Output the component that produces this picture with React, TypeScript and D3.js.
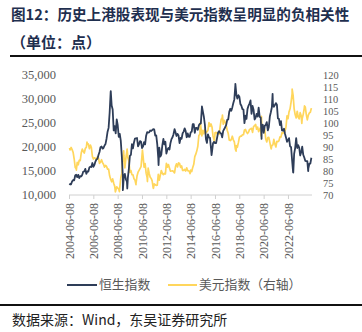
import React from "react";
import * as d3 from "d3";

// Monthly closes, starting 2004-06
const startYear = 2004;
const startMonth = 6;
const hsiMonthly = [
  12286, 12238, 12851, 13120, 13054, 14060, 14230,
  13721, 14195, 13516, 13908, 13867, 14201, 14880, 14903, 15429, 14386, 14937, 14876,
  15753, 15918, 15805, 16661, 15857, 16267, 16971, 17392, 17543, 18324, 18960, 19965,
  20106, 19651, 19801, 20318, 20634, 21773, 23185, 23984, 27142, 31352, 28643, 27813,
  23456, 24332, 22849, 25755, 24533, 22102, 22731, 21262, 18016, 13969, 13888, 14387,
  13278, 12812, 13576, 15521, 18171, 18379, 20573, 19724, 20955, 21753, 21822, 21873,
  20122, 20609, 21239, 21108, 19765, 20129, 21030, 20536, 22359, 23096, 23008, 23035,
  23447, 23338, 23528, 23721, 23684, 22398, 22440, 20535, 17592, 19864, 17989, 18434,
  20390, 21680, 20556, 21094, 18630, 19441, 19796, 19482, 20840, 21642, 22030, 22657,
  23730, 23020, 22300, 22737, 22392, 20803, 21883, 21731, 22860, 23206, 23881, 23306,
  22035, 22837, 22151, 22134, 23082, 23191, 24757, 24742, 22933, 23998, 23987, 23605,
  24507, 24823, 24901, 28133, 27424, 26250, 24636, 21671, 20846, 22640, 21996, 21914,
  19683, 19112, 20777, 21067, 20815, 20794, 21891, 23023, 23297, 22935, 22790, 22001,
  23361, 23741, 24112, 24615, 25661, 25765, 27323, 27970, 27554, 28246, 29177, 29919,
  32887, 30845, 30093, 30808, 30469, 28955, 28583, 27889, 27789, 24980, 26507, 25846,
  27942, 28633, 29051, 29699, 26901, 28543, 27778, 25725, 26092, 26907, 26346, 28190,
  26313, 26130, 23603, 24644, 22961, 24427, 24595, 25177, 23459, 24107, 26341, 27231,
  28284, 28980, 28378, 28725, 29152, 28828, 25961, 25879, 24576, 25377, 23475, 23398,
  23802, 22713, 21997, 21089, 21415, 21860, 20157, 19955, 17223, 14687, 18597, 19781,
  21842, 19786, 20400, 19895, 18234, 18916, 20079, 18382, 17810, 17112, 17043, 17047,
  15485, 16511, 16541, 17763,
];
const dxyMonthly = [
  88.8, 89.8, 88.9, 87.7, 85.1, 81.5, 81.0,
  83.6, 82.6, 84.4, 84.3, 87.5, 89.1, 88.2, 87.5, 89.4, 89.8, 91.4, 91.2,
  89.3, 90.8, 89.8, 86.1, 85.0, 85.5, 85.2, 84.8, 85.9, 85.4, 83.2, 83.7,
  84.7, 83.5, 82.8, 81.6, 82.3, 81.9, 80.8, 80.8, 78.0, 76.6, 75.5, 76.7,
  74.9, 73.6, 71.8, 73.4, 72.9, 72.4, 73.0, 77.2, 79.0, 85.6, 86.6, 81.3,
  85.4, 88.5, 85.6, 84.2, 79.4, 80.2, 78.5, 78.4, 76.8, 76.2, 74.9, 77.9,
  79.5, 80.3, 81.0, 81.8, 86.6, 86.2, 81.6, 83.1, 79.1, 77.3, 81.2, 79.0,
  77.4, 76.9, 75.9, 73.0, 74.6, 74.3, 74.0, 74.1, 78.6, 76.2, 78.3, 80.2,
  79.0, 78.5, 79.0, 78.8, 83.2, 81.6, 82.7, 81.2, 79.9, 80.0, 80.1, 79.8,
  79.2, 82.0, 83.0, 81.7, 83.4, 83.1, 81.5, 82.1, 80.2, 80.2, 80.7, 80.0,
  81.3, 80.1, 80.1, 79.5, 80.4, 79.8, 81.5, 82.8, 86.0, 87.0, 88.4, 90.3,
  94.8, 95.3, 98.4, 94.6, 96.9, 95.5, 97.3, 96.0, 96.3, 97.0, 100.2, 98.6,
  99.6, 98.2, 94.6, 93.1, 95.9, 96.1, 95.5, 96.0, 95.4, 98.4, 101.5, 102.2,
  99.5, 101.1, 100.4, 99.0, 97.0, 95.6, 92.9, 92.7, 93.1, 94.5, 93.0, 92.1,
  89.1, 90.6, 89.9, 91.8, 94.0, 94.5, 94.5, 95.1, 95.1, 97.1, 97.3, 96.2,
  95.6, 96.2, 97.3, 97.5, 97.8, 96.1, 98.5, 98.9, 99.4, 97.4, 98.3, 96.4,
  97.4, 98.1, 99.0, 99.0, 98.3, 97.4, 93.3, 92.1, 93.9, 94.0, 91.9, 89.9,
  90.6, 90.9, 93.2, 91.3, 90.0, 92.4, 92.2, 92.6, 94.2, 94.1, 96.0, 95.7,
  96.5, 96.7, 98.3, 103.0, 101.8, 104.7, 105.9, 108.7, 112.1, 111.5, 105.9, 103.5,
  102.1, 104.9, 102.5, 101.7, 104.3, 102.9, 101.9, 103.6, 106.2, 106.7, 103.5, 101.3,
  103.3, 104.2, 104.5, 106.2,
];
// Intra-month extremes
const hsiExtremes: [string, number][] = [
  ["2004-06-08", 12100], ["2007-10-30", 31638], ["2008-10-27", 11016], ["2009-03-09", 11345],
  ["2011-10-04", 16250], ["2015-04-28", 28443], ["2016-02-11", 18320], ["2018-01-26", 33154],
  ["2020-03-23", 21696], ["2021-02-17", 31080], ["2022-10-31", 14687], ["2024-01-22", 14961],
];
const dxyExtremes: [string, number][] = [
  ["2004-06-08", 89.6], ["2004-12-30", 80.4], ["2005-11-15", 92.0], ["2008-03-17", 71.3],
  ["2008-07-15", 71.4], ["2008-11-21", 88.4], ["2009-03-04", 89.1], ["2009-11-25", 74.3],
  ["2010-06-07", 88.7], ["2010-11-04", 75.6], ["2011-05-03", 72.8], ["2014-05-06", 78.9],
  ["2015-03-13", 100.3], ["2016-05-03", 91.9], ["2017-01-03", 103.3], ["2018-02-16", 88.3],
  ["2020-03-09", 94.6], ["2020-03-19", 102.8], ["2021-01-06", 89.2], ["2022-09-27", 114.1],
  ["2023-07-14", 99.8], ["2023-10-03", 107.1],
];
const leftTicks = [10000, 15000, 20000, 25000, 30000, 35000];
const rightTicks = [70, 75, 80, 85, 90, 95, 100, 105, 110, 115, 120];
const xTickLabels = [
  "2004-06-08", "2006-06-08", "2008-06-08", "2010-06-08", "2012-06-08",
  "2014-06-08", "2016-06-08", "2018-06-08", "2020-06-08", "2022-06-08",
];
const xStart = "2004-06-08";
const xEnd = "2024-05-15";
const title = "图12：历史上港股表现与美元指数呈明显的负相关性";
const subtitle = "（单位：点）";
const seriesNames = ["恒生指数", "美元指数（右轴）"];
const source = "数据来源：Wind，东吴证券研究所";

const parse = d3.timeParse("%Y-%m-%d");

function buildSeries(monthly: number[], extremes: [string, number][]) {
  const pts: { d: Date; v: number }[] = monthly.map((v, i) => ({
    d: new Date(startYear, startMonth - 1 + i, 26),
    v,
  }));
  extremes.forEach(([s, v]) => pts.push({ d: parse(s) as Date, v }));
  pts.sort((a, b) => +a.d - +b.d);
  return pts;
}

export default function App() {
  const W = 362, H = 332;
  const x = d3.scaleTime().domain([parse(xStart) as Date, parse(xEnd) as Date]).range([69.5, 312]);
  const yL = d3.scaleLinear().domain([10000, 35000]).range([195, 75]);
  const yR = d3.scaleLinear().domain([70, 120]).range([195, 75]);
  const hsi = buildSeries(hsiMonthly, hsiExtremes);
  const dxy = buildSeries(dxyMonthly, dxyExtremes);
  const lineL = d3.line<{ d: Date; v: number }>().x((p) => x(p.d)).y((p) => yL(p.v));
  const lineR = d3.line<{ d: Date; v: number }>().x((p) => x(p.d)).y((p) => yR(p.v));
  const fmt = d3.format(",");
  const numFont = "'Liberation Serif', 'Times New Roman', serif";
  const cjk = "'Noto Sans CJK SC', sans-serif";
  const dark = "#2e3d58";
  const yellow = "#ffd65c";
  const tickCol = "#595959";

  return (
    <svg width={W} height={H} style={{ position: "absolute", left: 0, top: 0, background: "#fff" }}>
      <text x={11} y={20} fontFamily={cjk} fontWeight={700} fontSize={14.6} fill="#1f2f4f">{title}</text>
      <text x={11} y={48} fontFamily={cjk} fontWeight={700} fontSize={15} fill="#1f2f4f">{subtitle}</text>
      <line x1={10} x2={362} y1={56} y2={56} stroke="#111" strokeWidth={2} />

      {leftTicks.map((t) => (
        <text key={t} x={56} y={yL(t)} dy="0.35em" textAnchor="end" fontFamily={numFont} fontSize={12.5} fill={tickCol}>{fmt(t)}</text>
      ))}
      {rightTicks.map((t) => (
        <text key={t} x={323} y={yR(t)} dy="0.35em" textAnchor="start" fontFamily={numFont} fontSize={10.4} fill={tickCol}>{t}</text>
      ))}

      <line x1={69} x2={312} y1={195} y2={195} stroke="#d0d0d0" strokeWidth={1} />
      {xTickLabels.map((s) => {
        const px = x(parse(s) as Date);
        return (
          <g key={s}>
            <line x1={px} x2={px} y1={195} y2={199} stroke="#d0d0d0" />
            <text transform={`translate(${px},203) rotate(-90)`} dy="0.35em" textAnchor="end" fontFamily={numFont} fontSize={12} fill={tickCol}>{s}</text>
          </g>
        );
      })}

      <path d={lineR(dxy) || ""} fill="none" stroke={yellow} strokeWidth={1.7} strokeLinejoin="round" />
      <path d={lineL(hsi) || ""} fill="none" stroke={dark} strokeWidth={1.8} strokeLinejoin="round" />

      <line x1={67} x2={97} y1={285} y2={285} stroke={dark} strokeWidth={2} />
      <text x={99} y={285} dy="0.35em" fontFamily={cjk} fontSize={12.8} fill={tickCol}>{seriesNames[0]}</text>
      <line x1={168} x2={197} y1={285} y2={285} stroke={yellow} strokeWidth={2} />
      <text x={199} y={285} dy="0.35em" fontFamily={cjk} fontSize={12.8} fill={tickCol}>{seriesNames[1]}</text>

      <line x1={0} x2={362} y1={305} y2={305} stroke="#111" strokeWidth={2} />
      <text x={12} y={320} dy="0.35em" fontFamily={cjk} fontSize={14} fill="#222">{source}</text>
    </svg>
  );
}
